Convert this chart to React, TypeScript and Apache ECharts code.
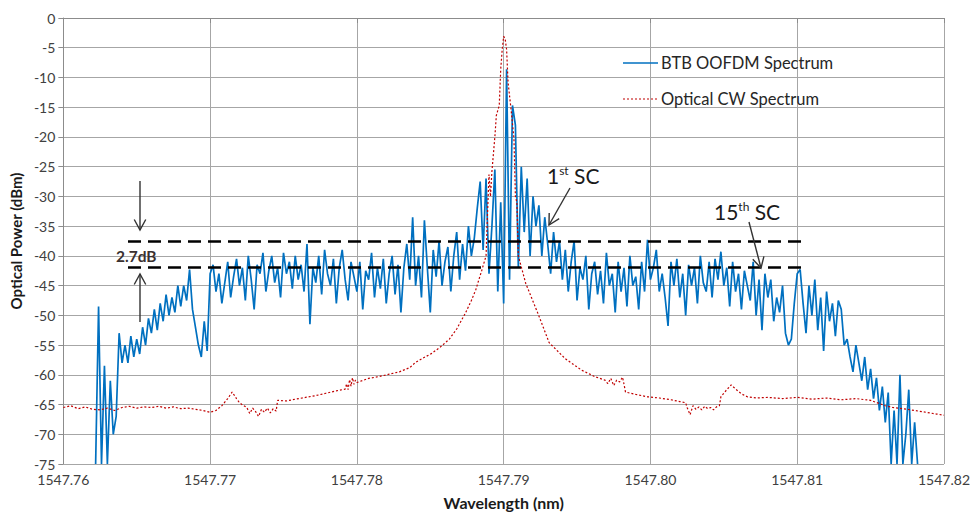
import React, { useEffect, useRef } from "react";
import * as echarts from "echarts";

// ---- data ----
const xTickMin = 1547.76;
const xTickMax = 1547.82;
const xTickStep = 0.01;
const yMin = -75;
const yMax = 0;
const yStep = 5;

// BTB OOFDM spectrum, sampled uniformly from blueStart with blueStep (nm)
const blueStart = 1547.7622;
const blueStep = 0.0002;
const blueValues = [
  -75, -48.5, -75, -58.5, -75, -61, -70, -67, -53, -58,
  -55, -58, -53.5, -57, -54, -56.5, -52, -55, -50.5, -53,
  -49, -52.5, -48, -51, -46.5, -50, -47, -49.5, -45, -48.5,
  -45, -47.5, -42.3, -49, -52, -55, -57, -51, -56, -43,
  -41.5, -46, -43, -48, -44.5, -41, -47, -43.5, -40.5, -45,
  -42, -47.5, -40, -44, -49, -41.5, -43, -39.5, -46, -42.5,
  -40, -44.5, -42, -47, -39.5, -43, -41, -45.5, -40, -44,
  -41.5, -46, -38, -51.5, -42, -44.5, -40, -46.5, -39, -43,
  -45, -40.5, -48, -42, -39, -44, -47.5, -41, -43.5, -46,
  -41, -49, -42.5, -44, -39.5, -47, -42, -45.5, -40.5, -48,
  -43, -40, -46.5, -41.5, -49.5, -42, -38, -44, -33.5, -45,
  -40, -47, -34, -42, -49.5, -39, -43.5, -37.5, -45, -41,
  -38.5, -46, -40, -36, -44, -38, -42.5, -35, -40, -37,
  -32, -27.5, -39, -27, -43, -35, -25.5, -46, -31, -48,
  -8.6, -44, -14.7, -18, -42, -25, -36, -27, -40, -30,
  -35, -31.5, -40, -33.5, -38, -43, -36, -41, -37.5, -44,
  -39, -46, -41, -37.5, -47.5, -42, -44, -40, -49, -43,
  -41, -46.5, -42.5, -48, -39.5, -45, -43, -49.5, -41, -46,
  -42, -48.5, -40, -45, -43.5, -49, -41, -46, -37.3, -44,
  -42, -39, -46, -43, -47, -51.8, -41, -45, -40.5, -47,
  -43, -50, -41.5, -45, -42, -48, -40, -44.5, -46, -41,
  -47, -40.5, -44, -39.3, -45, -42, -48.5, -41, -46, -43,
  -49, -42.5, -45, -47.5, -41, -50, -44, -52.5, -43, -47,
  -44, -51, -47, -49.5, -45, -53, -55, -54, -48, -43,
  -42.3, -48, -53, -45, -50, -44, -52.5, -47, -56, -46,
  -51, -48, -53.5, -47.5, -49, -55, -54, -57, -59.5, -55,
  -58, -61, -57, -62.5, -59, -64, -60.5, -66, -62, -68,
  -63, -75, -66, -75, -60, -75, -70, -62.5, -75, -68, -75,
];

// Optical CW spectrum: wavelengths (nm) and powers (dBm)
const redWavelengths = [
  1547.7600, 1547.7605, 1547.7610, 1547.7615, 1547.7620, 1547.7625, 1547.7630, 1547.7635, 1547.7640, 1547.7645,
  1547.7650, 1547.7655, 1547.7660, 1547.7665, 1547.7670, 1547.7675, 1547.7680, 1547.7685, 1547.7690, 1547.7695,
  1547.7700, 1547.7704, 1547.7708, 1547.7712, 1547.7715, 1547.7718, 1547.7720, 1547.7723,
  1547.7725, 1547.7727, 1547.7729, 1547.7731, 1547.7733, 1547.7735, 1547.7737, 1547.7739, 1547.7741, 1547.7743, 1547.7745,
  1547.7746, 1547.7752, 1547.7758, 1547.7765, 1547.7772, 1547.7779, 1547.7786, 1547.7792,
  1547.7793, 1547.7794, 1547.7795, 1547.7796, 1547.7797, 1547.7798, 1547.7799, 1547.7800,
  1547.7808, 1547.7815, 1547.7822, 1547.7829, 1547.7836, 1547.7840, 1547.7845, 1547.7851, 1547.7857, 1547.7863,
  1547.7868, 1547.7874, 1547.7878, 1547.7881, 1547.7885, 1547.7888, 1547.7889, 1547.7890, 1547.7891, 1547.7892,
  1547.7894, 1547.7895, 1547.7897, 1547.7898, 1547.7899, 1547.7900, 1547.7901, 1547.7902, 1547.7903, 1547.7905,
  1547.7907, 1547.7908, 1547.7909, 1547.7910, 1547.7915, 1547.7924, 1547.7931, 1547.7942, 1547.7953, 1547.7962,
  1547.7969, 1547.7971, 1547.7973, 1547.7975, 1547.7977, 1547.7979, 1547.7981, 1547.7982,
  1547.7983, 1547.7990, 1547.7998, 1547.8006, 1547.8014, 1547.8020, 1547.8024,
  1547.8025, 1547.8027, 1547.8029, 1547.8031, 1547.8033, 1547.8035, 1547.8037, 1547.8039, 1547.8041, 1547.8043, 1547.8045, 1547.8047,
  1547.8048, 1547.8052, 1547.8055, 1547.8058, 1547.8062, 1547.8066, 1547.8072, 1547.8080, 1547.8090, 1547.8100,
  1547.8110, 1547.8120, 1547.8130, 1547.8140, 1547.8150, 1547.8160, 1547.8165, 1547.8175, 1547.8185, 1547.8195, 1547.8200,
];
const redValues = [
  -65.5, -65.2, -65.7, -65.4, -65.8, -65.9, -65.6, -66.0, -65.5, -65.3,
  -65.6, -65.4, -65.5, -65.3, -65.6, -65.4, -65.7, -65.6, -65.8, -66.0,
  -66.3, -66.0, -65.2, -64.0, -62.9, -64.0, -64.7, -65.2,
  -65.5, -66.5, -65.6, -66.2, -67.0, -65.8, -66.3, -65.6, -66.4, -65.7, -66.1,
  -64.3, -64.4, -64.1, -63.8, -63.5, -63.1, -62.7, -62.4,
  -61.5, -62.5, -60.8, -61.9, -60.5, -61.6, -60.9, -61.3,
  -60.6, -60.3, -59.9, -59.5, -58.8, -57.9, -57.2, -56.4, -55.3, -54.0,
  -52.3, -49.6, -47.5, -45.7, -42.5, -40.0, -33.0, -26.3, -30.0, -25.8,
  -20.0, -16.4, -14.7, -8.6, -5.3, -3.1, -3.5, -5.3, -10.8, -15.3,
  -20.2, -30.0, -31.0, -40.0, -44.6, -50.1, -54.6, -57.3, -59.2, -60.3,
  -60.9, -61.5, -60.6, -61.8, -60.9, -61.2, -60.4, -61.6,
  -62.9, -63.3, -63.7, -63.9, -64.2, -64.5, -64.7,
  -65.5, -66.7, -65.2, -65.8, -65.4, -65.9, -65.3, -65.7, -65.5, -65.9, -65.4, -65.2,
  -63.7, -62.5, -61.7, -62.4, -63.2, -63.7, -63.9, -63.8, -64.0, -63.8,
  -64.1, -63.9, -64.2, -64.0, -64.3, -65.2, -65.5, -65.8, -66.2, -66.6, -66.8,
];

const seriesNames = ["BTB OOFDM Spectrum", "Optical CW Spectrum"];
const seriesColors = ["#0070c0", "#c00000"];
const xTitle = "Wavelength (nm)";
const yTitle = "Optical Power (dBm)";

const FONT = "Lato, 'Open Sans', 'DejaVu Sans', sans-serif";

function arrow(x1: number, y1: number, x2: number, y2: number) {
  const ang = Math.atan2(y2 - y1, x2 - x1);
  const L = 12;
  const w = 0.5;
  const p1 = [x2 - L * Math.cos(ang - w), y2 - L * Math.sin(ang - w)];
  const p2 = [x2 - L * Math.cos(ang + w), y2 - L * Math.sin(ang + w)];
  const stroke = "#333333";
  return [
    { type: "line", shape: { x1, y1, x2, y2 }, style: { stroke, lineWidth: 1.4 }, z: 100 },
    { type: "polyline", shape: { points: [p1, [x2, y2], p2] }, style: { stroke, lineWidth: 1.4, fill: null }, z: 100 },
  ];
}

export default function App() {
  const ref = useRef<HTMLDivElement>(null);

  useEffect(() => {
    if (!ref.current) return;
    const chart = echarts.init(ref.current, null, { renderer: "svg" });

    const blueData = blueValues.map((v, i) => [blueStart + i * blueStep, v]);
    const redData = redValues.map((v, i) => [redWavelengths[i], v]);

    const gridColor = "#a6a6a6";

    chart.setOption({
      animation: false,
      backgroundColor: "#ffffff",
      textStyle: { fontFamily: FONT },
      grid: { left: 63, right: 26, top: 18, bottom: 45, containLabel: false },
      xAxis: {
        type: "value",
        min: xTickMin,
        max: xTickMax,
        interval: xTickStep,
        name: xTitle,
        nameLocation: "middle",
        nameGap: 30,
        nameTextStyle: { fontFamily: FONT, fontSize: 16, fontWeight: "bold", color: "#1a1a1a" },
        axisLine: { lineStyle: { color: "#8c8c8c", width: 1 } },
        axisTick: { show: true, length: 5, lineStyle: { color: "#8c8c8c" } },
        axisLabel: {
          fontFamily: FONT,
          fontSize: 14,
          color: "#404040",
          margin: 8,
          formatter: (v: number) => v.toFixed(2),
        },
        splitLine: { show: true, lineStyle: { color: gridColor, width: 1 } },
      },
      yAxis: {
        type: "value",
        min: yMin,
        max: yMax,
        interval: yStep,
        name: yTitle,
        nameLocation: "middle",
        nameRotate: 90,
        nameGap: 38,
        nameTextStyle: { fontFamily: FONT, fontSize: 15, fontWeight: "bold", color: "#1a1a1a" },
        axisLine: { show: true, lineStyle: { color: "#8c8c8c", width: 1 } },
        axisTick: { show: true, length: 5, lineStyle: { color: "#8c8c8c" } },
        axisLabel: { fontFamily: FONT, fontSize: 14, color: "#404040", margin: 8 },
        splitLine: { show: true, lineStyle: { color: gridColor, width: 1 } },
      },
      series: [
        {
          name: seriesNames[0],
          type: "line",
          data: blueData,
          symbol: "none",
          lineStyle: { color: seriesColors[0], width: 1.7 },
          itemStyle: { color: seriesColors[0] },
          z: 3,
        },
        {
          name: seriesNames[1],
          type: "line",
          data: redData,
          symbol: "none",
          lineStyle: { color: seriesColors[1], width: 1.2, type: [2, 2] },
          itemStyle: { color: seriesColors[1] },
          z: 4,
        },
      ],
      graphic: [
        // legend
        { type: "line", shape: { x1: 623, y1: 63, x2: 658, y2: 63 }, style: { stroke: seriesColors[0], lineWidth: 1.7 }, z: 100 },
        {
          type: "text", x: 661, y: 63, z: 100,
          style: { text: seriesNames[0], fontFamily: FONT, fontSize: 16.5, fill: "#262626", verticalAlign: "middle" },
        },
        { type: "line", shape: { x1: 623, y1: 99, x2: 658, y2: 99 }, style: { stroke: seriesColors[1], lineWidth: 1.2, lineDash: [2, 2] }, z: 100 },
        {
          type: "text", x: 661, y: 99, z: 100,
          style: { text: seriesNames[1], fontFamily: FONT, fontSize: 16.5, fill: "#262626", verticalAlign: "middle" },
        },
        // dashed reference levels
        { type: "line", shape: { x1: 128, y1: 241.5, x2: 808, y2: 241.5 }, style: { stroke: "#000", lineWidth: 2.6, lineDash: [13, 7] }, z: 90 },
        { type: "line", shape: { x1: 128, y1: 267.5, x2: 808, y2: 267.5 }, style: { stroke: "#000", lineWidth: 2.6, lineDash: [13, 7] }, z: 90 },
        ...arrow(140, 181, 140, 230),
        ...arrow(140, 322, 140, 274),
        ...arrow(570, 188, 549, 225),
        ...arrow(749, 222, 761, 268),
        {
          type: "text",
          x: 116,
          y: 248,
          z: 100,
          style: { text: "2.7dB", fontFamily: FONT, fontSize: 15.5, fontWeight: "bold", fill: "#3a3030", verticalAlign: "top" },
        },
        {
          type: "text",
          x: 547,
          y: 164,
          z: 100,
          style: {
            text: "{a|1}{b|st}{a| SC}",
            verticalAlign: "top",
            rich: {
              a: { fontFamily: FONT, fontSize: 21, fill: "#1a1a1a", lineHeight: 22 },
              b: { fontFamily: FONT, fontSize: 12, fill: "#1a1a1a", verticalAlign: "top", lineHeight: 14 },
            },
          },
        },
        {
          type: "text",
          x: 714,
          y: 200,
          z: 100,
          style: {
            text: "{a|15}{b|th}{a| SC}",
            verticalAlign: "top",
            rich: {
              a: { fontFamily: FONT, fontSize: 21, fill: "#1a1a1a", lineHeight: 22 },
              b: { fontFamily: FONT, fontSize: 12, fill: "#1a1a1a", verticalAlign: "top", lineHeight: 14 },
            },
          },
        },
      ],
    });

    return () => chart.dispose();
  }, []);

  return (
    <div
      ref={ref}
      style={{ position: "fixed", left: 0, top: 0, width: 973, height: 515, background: "#fff" }}
    />
  );
}
